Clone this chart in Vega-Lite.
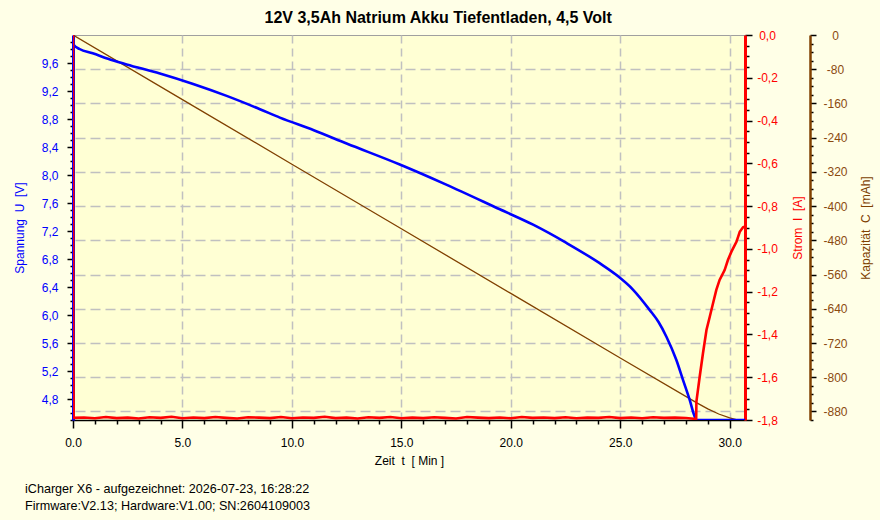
{
  "$schema": "https://vega.github.io/schema/vega-lite/v6.json",
  "background": "#FFFFE7",
  "padding": {"left": 12, "right": 9, "top": 9, "bottom": 10},
  "config": {
    "font": "Liberation Sans",
    "view": {"fill": "#FFFFD4", "stroke": "#A0A0A0", "strokeWidth": 1},
    "concat": {"spacing": 0}
  },
  "title": {
    "text": "12V 3,5Ah Natrium Akku Tiefentladen, 4,5 Volt",
    "font": "Liberation Sans",
    "fontSize": 16,
    "fontWeight": "bold",
    "color": "#000000",
    "anchor": "middle",
    "dx": -4,
    "offset": 3
  },
  "datasets": {
    "volt": [
      {"t": 0, "v": 10.0}, {"t": 0.03, "v": 9.86}, {"t": 0.3, "v": 9.8}, {"t": 0.9, "v": 9.74},
      {"t": 1.6, "v": 9.66}, {"t": 2.45, "v": 9.58}, {"t": 3.97, "v": 9.45}, {"t": 5.49, "v": 9.3},
      {"t": 7.02, "v": 9.13}, {"t": 8.54, "v": 8.94}, {"t": 9.45, "v": 8.82}, {"t": 11.0, "v": 8.64},
      {"t": 12.5, "v": 8.45}, {"t": 14.93, "v": 8.15}, {"t": 17.0, "v": 7.87}, {"t": 19.5, "v": 7.51},
      {"t": 21.02, "v": 7.29}, {"t": 22.54, "v": 7.03}, {"t": 24.06, "v": 6.74}, {"t": 24.83, "v": 6.57},
      {"t": 25.59, "v": 6.36}, {"t": 26.35, "v": 6.07}, {"t": 26.75, "v": 5.9}, {"t": 27.11, "v": 5.69},
      {"t": 27.56, "v": 5.36}, {"t": 27.87, "v": 5.07}, {"t": 28.17, "v": 4.79}, {"t": 28.4, "v": 4.55},
      {"t": 28.48, "v": 4.5}, {"t": 30.7, "v": 4.5}
    ],
    "cap": [
      {"t": 0, "c": 0}, {"t": 5, "c": -151}, {"t": 10, "c": -302}, {"t": 15, "c": -453},
      {"t": 20, "c": -604}, {"t": 25, "c": -755}, {"t": 28.5, "c": -860}, {"t": 29.0, "c": -874},
      {"t": 29.5, "c": -886}, {"t": 30.0, "c": -895}, {"t": 30.3, "c": -899}, {"t": 30.7, "c": -906}
    ],
    "amp": [
      {"t": 0, "i": 0}, {"t": 0.01, "i": -1.42}, {"t": 0.03, "i": -1.79},
      {"t": 0.5, "i": -1.788}, {"t": 1.0, "i": -1.792}, {"t": 1.5, "i": -1.786}, {"t": 2.0, "i": -1.791},
      {"t": 2.5, "i": -1.789}, {"t": 3.0, "i": -1.793}, {"t": 3.5, "i": -1.787}, {"t": 4.0, "i": -1.79},
      {"t": 4.5, "i": -1.785}, {"t": 5.0, "i": -1.792}, {"t": 5.5, "i": -1.788}, {"t": 6.0, "i": -1.791},
      {"t": 6.5, "i": -1.786}, {"t": 7.0, "i": -1.79}, {"t": 7.5, "i": -1.793}, {"t": 8.0, "i": -1.787},
      {"t": 8.5, "i": -1.789}, {"t": 9.0, "i": -1.791}, {"t": 9.5, "i": -1.786}, {"t": 10.0, "i": -1.792},
      {"t": 10.5, "i": -1.788}, {"t": 11.0, "i": -1.79}, {"t": 11.5, "i": -1.785}, {"t": 12.0, "i": -1.791},
      {"t": 12.5, "i": -1.789}, {"t": 13.0, "i": -1.793}, {"t": 13.5, "i": -1.787}, {"t": 14.0, "i": -1.79},
      {"t": 14.5, "i": -1.786}, {"t": 15.0, "i": -1.792}, {"t": 15.5, "i": -1.789}, {"t": 16.0, "i": -1.791},
      {"t": 16.5, "i": -1.787}, {"t": 17.0, "i": -1.79}, {"t": 17.5, "i": -1.793}, {"t": 18.0, "i": -1.786},
      {"t": 18.5, "i": -1.789}, {"t": 19.0, "i": -1.791}, {"t": 19.5, "i": -1.788}, {"t": 20.0, "i": -1.792},
      {"t": 20.5, "i": -1.786}, {"t": 21.0, "i": -1.79}, {"t": 21.5, "i": -1.788}, {"t": 22.0, "i": -1.791},
      {"t": 22.5, "i": -1.787}, {"t": 23.0, "i": -1.792}, {"t": 23.5, "i": -1.789}, {"t": 24.0, "i": -1.79},
      {"t": 24.5, "i": -1.786}, {"t": 25.0, "i": -1.791}, {"t": 25.5, "i": -1.788}, {"t": 26.0, "i": -1.792},
      {"t": 26.5, "i": -1.787}, {"t": 27.0, "i": -1.79}, {"t": 27.5, "i": -1.789}, {"t": 28.0, "i": -1.791},
      {"t": 28.47, "i": -1.795}, {"t": 28.48, "i": -1.714}, {"t": 28.63, "i": -1.598}, {"t": 28.78, "i": -1.488},
      {"t": 28.94, "i": -1.379}, {"t": 29.09, "i": -1.317}, {"t": 29.24, "i": -1.254}, {"t": 29.39, "i": -1.192},
      {"t": 29.54, "i": -1.145}, {"t": 29.77, "i": -1.099}, {"t": 29.92, "i": -1.052}, {"t": 30.08, "i": -1.013},
      {"t": 30.31, "i": -0.967}, {"t": 30.46, "i": -0.92}, {"t": 30.61, "i": -0.899}, {"t": 30.68, "i": -0.896}
    ]
  },
  "vconcat": [
    {
      "width": 672,
      "height": 385,
      "title": {
        "text": ["iCharger X6 - aufgezeichnet: 2026-07-23, 16:28:22", "Firmware:V2.13; Hardware:V1.00; SN:2604109003"],
        "orient": "bottom",
        "anchor": "start",
        "frame": "group",
        "dx": -48,
        "offset": 17,
        "font": "Liberation Sans",
        "fontSize": 12.6,
        "fontWeight": "normal",
        "color": "#000000",
        "lineHeight": 17
      },
      "encoding": {
        "x": {
          "field": "t",
          "type": "quantitative",
          "scale": {"domain": [0, 30.7], "nice": false, "zero": false},
          "axis": {
            "title": "Zeit\u00a0 t\u00a0 [ Min ]",
            "titleFont": "Liberation Sans",
            "titleFontSize": 12,
            "titleFontWeight": "normal",
            "titleColor": "#000000",
            "titlePadding": 7,
            "values": [0,1,2,3,4,5,6,7,8,9,10,11,12,13,14,15,16,17,18,19,20,21,22,23,24,25,26,27,28,29,30],
            "labelExpr": "datum.value % 5 == 0 ? format(datum.value, '.1f') : ''",
            "labelFontSize": 12,
            "labelColor": "#000000",
            "labelPadding": 9,
            "labelOverlap": false,
            "labelFlush": false,
            "domainColor": "#000000",
            "domainWidth": 1.5,
            "tickColor": "#000000",
            "tickWidth": 1.5,
            "tickSize": {"condition": {"test": "datum.value % 5 == 0", "value": 8}, "value": 4},
            "grid": true,
            "gridColor": "#C0C0C0",
            "gridWidth": 1.5,
            "gridDash": [8, 5],
            "gridOpacity": {"condition": {"test": "datum.value % 5 == 0 && datum.value > 0", "value": 1}, "value": 0}
          }
        }
      },
      "layer": [
        {
          "data": {"name": "cap"},
          "mark": {"type": "line", "color": "#804000", "strokeWidth": 1.3, "clip": true},
          "encoding": {
            "y": {
              "field": "c",
              "type": "quantitative",
              "scale": {"domain": [-900, 0], "nice": false, "zero": false},
              "axis": {
                "orient": "right",
                "offset": 65,
                "title": "Kapazität\u00a0 C\u00a0 [mAh]",
                "titleAngle": 270,
                "titleBaseline": "top",
                "titleFont": "Liberation Sans",
                "titleFontSize": 12,
                "titleFontWeight": "normal",
                "titleColor": "#804000",
                "titlePadding": 13,
                "values": [0,-20,-40,-60,-80,-100,-120,-140,-160,-180,-200,-220,-240,-260,-280,-300,-320,-340,-360,-380,-400,-420,-440,-460,-480,-500,-520,-540,-560,-580,-600,-620,-640,-660,-680,-700,-720,-740,-760,-780,-800,-820,-840,-860,-880,-900],
                "labelExpr": "round(datum.value) % 80 == 0 ? (datum.value < 0 ? '-' : '') + format(abs(datum.value), 'd') : ''",
                "labelFontSize": 12,
                "labelColor": "#8B4A10",
                "labelAlign": "center",
                "labelPadding": 19,
                "labelOverlap": false,
                "labelFlush": false,
                "domainColor": "#804000",
                "domainWidth": 2.5,
                "tickColor": "#000000",
                "tickWidth": 1.5,
                "tickSize": {"condition": {"test": "round(datum.value) % 80 == 0", "value": 6}, "value": 3},
                "grid": true,
                "gridColor": "#C0C0C0",
                "gridWidth": 1.5,
                "gridDash": [10, 5],
                "gridOpacity": {"condition": {"test": "round(datum.value) % 80 == 0 && datum.value < 0", "value": 1}, "value": 0}
              }
            }
          }
        },
        {
          "data": {"name": "volt"},
          "mark": {"type": "line", "color": "#0000FF", "strokeWidth": 2.6, "clip": true, "interpolate": "monotone"},
          "encoding": {
            "y": {
              "field": "v",
              "type": "quantitative",
              "scale": {"domain": [4.5, 10.0], "nice": false, "zero": false},
              "axis": {
                "orient": "left",
                "title": "Spannung\u00a0 U\u00a0 [V]",
                "titleFont": "Liberation Sans",
                "titleFontSize": 12,
                "titleFontWeight": "normal",
                "titleColor": "#0000FF",
                "titlePadding": 15,
                "values": [4.5,4.6,4.7,4.8,4.9,5.0,5.1,5.2,5.3,5.4,5.5,5.6,5.7,5.8,5.9,6.0,6.1,6.2,6.3,6.4,6.5,6.6,6.7,6.8,6.9,7.0,7.1,7.2,7.3,7.4,7.5,7.6,7.7,7.8,7.9,8.0,8.1,8.2,8.3,8.4,8.5,8.6,8.7,8.8,8.9,9.0,9.1,9.2,9.3,9.4,9.5,9.6,9.7,9.8,9.9],
                "labelExpr": "round(datum.value * 10) % 4 == 0 ? replace(format(datum.value, '.1f'), '.', ',') : ''",
                "labelFontSize": 12,
                "labelColor": "#0000FF",
                "labelPadding": 9,
                "labelOverlap": false,
                "labelFlush": false,
                "domainColor": "#0000FF",
                "domainWidth": 3,
                "tickColor": "#000000",
                "tickWidth": 1.5,
                "tickSize": {"condition": {"test": "round(datum.value * 10) % 4 == 0", "value": 6}, "value": 3},
                "grid": false
              }
            }
          }
        },
        {
          "data": {"name": "amp"},
          "mark": {"type": "line", "color": "#FF0000", "strokeWidth": 2.6, "clip": true},
          "encoding": {
            "y": {
              "field": "i",
              "type": "quantitative",
              "scale": {"domain": [-1.8, 0], "nice": false, "zero": false},
              "axis": {
                "orient": "right",
                "title": "Strom\u00a0 I\u00a0 [A]",
                "titleAngle": 270,
                "titleBaseline": "top",
                "titleFont": "Liberation Sans",
                "titleFontSize": 12,
                "titleFontWeight": "normal",
                "titleColor": "#FF0000",
                "titlePadding": 15,
                "values": [0,-0.05,-0.1,-0.15,-0.2,-0.25,-0.3,-0.35,-0.4,-0.45,-0.5,-0.55,-0.6,-0.65,-0.7,-0.75,-0.8,-0.85,-0.9,-0.95,-1.0,-1.05,-1.1,-1.15,-1.2,-1.25,-1.3,-1.35,-1.4,-1.45,-1.5,-1.55,-1.6,-1.65,-1.7,-1.75,-1.8],
                "labelExpr": "round(datum.value * 100) % 20 == 0 ? (datum.value < -0.001 ? '-' : '') + replace(format(abs(datum.value), '.1f'), '.', ',') : ''",
                "labelFontSize": 12,
                "labelColor": "#FF0000",
                "labelAlign": "center",
                "labelPadding": 15,
                "labelOverlap": false,
                "labelFlush": false,
                "domainColor": "#FF0000",
                "domainWidth": 3,
                "tickColor": "#000000",
                "tickWidth": 1.5,
                "tickSize": {"condition": {"test": "round(datum.value * 100) % 20 == 0", "value": 7}, "value": 4},
                "grid": false
              }
            }
          }
        }
      ],
      "resolve": {"scale": {"y": "independent"}}
    }
  ]
}
